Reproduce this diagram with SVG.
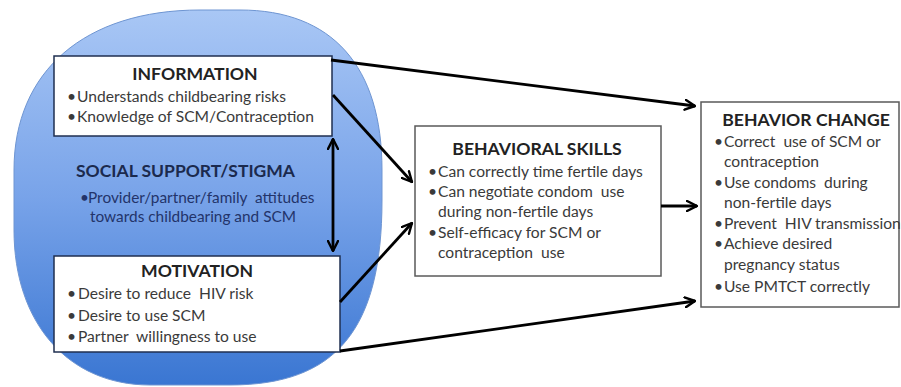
<svg xmlns="http://www.w3.org/2000/svg" width="901" height="387" viewBox="0 0 901 387">
  <defs>
    <linearGradient id="blobGrad" x1="0" y1="0" x2="0" y2="1">
      <stop offset="0" stop-color="#a9c7f5"/>
      <stop offset="0.5" stop-color="#78a3e9"/>
      <stop offset="1" stop-color="#3a76d2"/>
    </linearGradient>
    <marker id="arrow" viewBox="0 0 12 12" refX="11" refY="6" markerWidth="12" markerHeight="12" markerUnits="userSpaceOnUse" orient="auto-start-reverse">
      <path d="M1,1 L11,6 L1,11" fill="none" stroke="#000" stroke-width="2.4" stroke-linecap="round" stroke-linejoin="round"/>
    </marker>
    <style>
      text { font-family: Lato, "Open Sans", "Liberation Sans", sans-serif; white-space: pre; }
      .box { fill: #ffffff; }
      .navy { stroke: #1f2f50; stroke-width: 1.5; }
      .gray { stroke: #5a5a5a; stroke-width: 1.5; }
      .title { font-weight: bold; font-size: 17.6px; fill: #222222; text-anchor: middle; }
      .body { font-size: 15.6px; fill: #3a3a3a; }
      .ss-title { font-weight: bold; font-size: 17.5px; fill: #1b2a4e; }
      .ss-body { font-size: 15.4px; fill: #23346a; }
      .conn { stroke: #000; stroke-width: 2.8; fill: none; marker-end: url(#arrow); }
    </style>
  </defs>

  <g id="social-support">
    <path d="M200,10 L240,10 C332,10 382,66 382,170 L382,200 C382,330 336,385 230,385 L150,385 C68,385 14,323 14,230 L14,170 C14,71 85,10 200,10 Z" fill="url(#blobGrad)" stroke="#6e95d2" stroke-width="1"/>
    <text class="ss-title" x="76" y="177">SOCIAL SUPPORT/STIGMA</text>
    <text class="ss-body" x="80" y="203">•</text>
    <text class="ss-body" x="88" y="203">Provider/partner/family  attitudes</text>
    <text class="ss-body" x="90" y="222">towards childbearing and SCM</text>
  </g>

  <g id="information">
    <rect class="box navy" x="54" y="56" width="278" height="80"/>
    <text class="title" x="195" y="80">INFORMATION</text>
    <text class="body" x="67" y="102">•</text>
    <text class="body" x="77" y="102">Understands childbearing risks</text>
    <text class="body" x="67" y="122">•</text>
    <text class="body" x="77" y="122">Knowledge of SCM/Contraception</text>
  </g>

  <g id="motivation">
    <rect class="box navy" x="54" y="256" width="286" height="96"/>
    <text class="title" x="197" y="277">MOTIVATION</text>
    <text class="body" x="67" y="299">•</text>
    <text class="body" x="78" y="299">Desire to reduce  HIV risk</text>
    <text class="body" x="67" y="321">•</text>
    <text class="body" x="78" y="321">Desire to use SCM</text>
    <text class="body" x="67" y="342">•</text>
    <text class="body" x="78" y="342">Partner  willingness to use</text>
  </g>

  <g id="behavioral-skills">
    <rect class="box gray" x="415" y="126" width="246" height="150"/>
    <text class="title" x="537" y="155">BEHAVIORAL SKILLS</text>
    <text class="body" x="428" y="177">•</text>
    <text class="body" x="438" y="177">Can correctly time fertile days</text>
    <text class="body" x="428" y="197">•</text>
    <text class="body" x="438" y="197">Can negotiate condom  use</text>
    <text class="body" x="438" y="217">during non-fertile days</text>
    <text class="body" x="428" y="238">•</text>
    <text class="body" x="438" y="238">Self-efficacy for SCM or</text>
    <text class="body" x="438" y="258">contraception  use</text>
  </g>

  <g id="behavior-change">
    <rect class="box gray" x="701" y="102" width="198" height="205"/>
    <text class="title" x="806" y="126">BEHAVIOR CHANGE</text>
    <text class="body" x="714" y="147">•</text>
    <text class="body" x="724" y="147">Correct  use of SCM or</text>
    <text class="body" x="724" y="167">contraception</text>
    <text class="body" x="714" y="188">•</text>
    <text class="body" x="724" y="188">Use condoms  during</text>
    <text class="body" x="724" y="208">non-fertile days</text>
    <text class="body" x="714" y="229">•</text>
    <text class="body" x="724" y="229">Prevent  HIV transmission</text>
    <text class="body" x="714" y="249">•</text>
    <text class="body" x="724" y="249">Achieve desired</text>
    <text class="body" x="724" y="270">pregnancy status</text>
    <text class="body" x="714" y="292">•</text>
    <text class="body" x="724" y="292">Use PMTCT correctly</text>
  </g>

  <g id="connectors">
    <line class="conn" x1="331" y1="60" x2="695" y2="106"/>
    <line class="conn" x1="333" y1="95" x2="412" y2="182"/>
    <line class="conn" x1="340" y1="302" x2="412" y2="223"/>
    <line class="conn" x1="661" y1="206" x2="697" y2="206"/>
    <line class="conn" x1="340" y1="351" x2="695" y2="301"/>
    <line class="conn" x1="333" y1="139" x2="333" y2="251" marker-start="url(#arrow)"/>
  </g>
</svg>
